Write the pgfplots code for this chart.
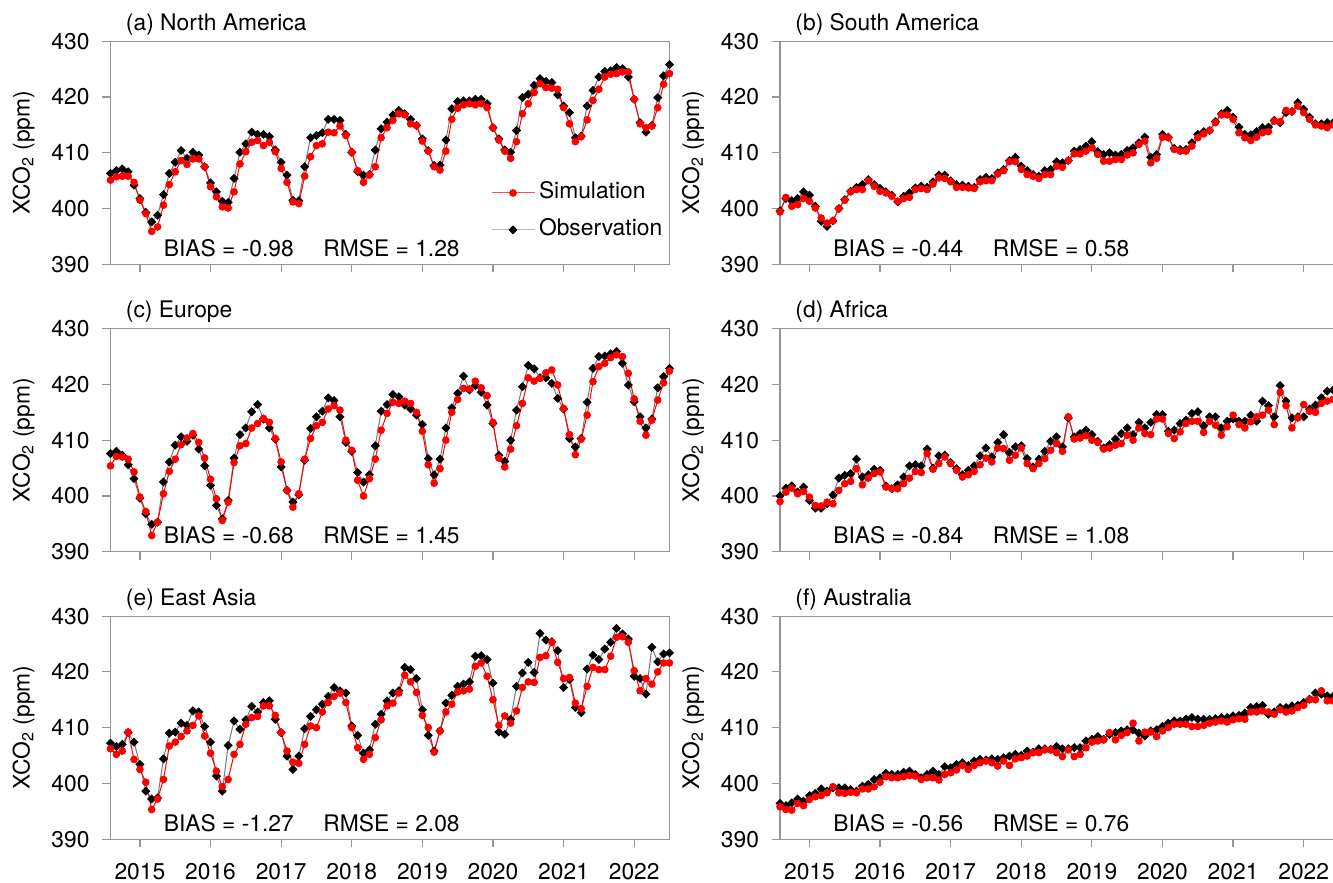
\documentclass[border=0pt]{standalone}
\usepackage{fontspec}
\setmainfont{TeX Gyre Heros}
\usepackage{pgfplots}
\usepackage{pgfplotstable}
\pgfplotsset{compat=1.18}

\definecolor{axgray}{RGB}{150,150,150}
\definecolor{obsline}{RGB}{120,120,120}
\definecolor{simred}{RGB}{255,0,0}

\newcommand{\ff}{\fontsize{11.4}{13.5}\selectfont}

\pgfplotstableread{
i sim obs
0 405.1 406.3
1 405.7 406.8
2 405.8 407.1
3 405.8 406.6
4 404.7 404.2
5 401.5 401.8
6 399.1 399.3
7 395.9 397.6
8 396.7 398.8
9 400.6 402.5
10 404.3 406.3
11 406.6 408.3
12 408.6 410.4
13 407.9 409.0
14 408.9 410.1
15 408.9 409.6
16 407.5 407.5
17 403.9 404.6
18 402.1 403.0
19 400.3 401.3
20 400.1 401.1
21 403.0 405.4
22 408.0 410.1
23 410.2 411.6
24 411.9 413.7
25 412.2 413.3
26 411.3 413.3
27 411.9 412.9
28 410.2 410.5
29 407.2 408.3
30 404.7 406.0
31 401.2 401.5
32 400.9 401.4
33 405.8 407.5
34 409.3 412.7
35 411.3 413.1
36 411.6 413.6
37 413.7 416.0
38 413.6 416.0
39 414.8 415.8
40 413.1 413.3
41 410.1 410.1
42 406.8 406.6
43 404.7 406.0
44 406.0 406.1
45 407.5 410.5
46 412.7 414.3
47 414.5 415.5
48 415.8 416.8
49 417.0 417.6
50 416.8 417.0
51 415.2 416.0
52 414.9 414.9
53 412.1 412.5
54 410.3 410.4
55 407.5 407.7
56 406.9 407.8
57 410.3 412.3
58 416.0 417.9
59 418.0 419.2
60 418.6 419.3
61 418.8 419.3
62 418.6 419.6
63 418.8 419.6
64 418.1 418.8
65 414.5 414.5
66 412.3 412.5
67 410.3 410.5
68 409.0 410.1
69 412.0 414.0
70 417.0 419.9
71 418.8 420.5
72 420.8 422.1
73 422.4 423.3
74 421.7 422.8
75 421.6 422.6
76 421.4 420.4
77 418.1 418.4
78 415.2 417.2
79 412.0 412.7
80 412.9 413.0
81 415.9 418.4
82 419.4 421.2
83 421.4 423.6
84 423.6 424.6
85 424.1 424.7
86 424.2 425.3
87 424.5 425.1
88 424.5 423.6
89 419.6 419.6
90 415.2 415.4
91 414.5 413.7
92 414.8 414.9
93 418.1 419.9
94 422.3 423.8
95 424.2 425.8
}\tabA

\pgfplotstableread{
i sim obs
0 399.4 399.6
1 402.0 401.8
2 400.4 401.4
3 400.7 401.8
4 401.8 403.0
5 401.3 402.4
6 400.1 400.4
7 398.3 397.7
8 397.4 396.8
9 397.8 397.8
10 400.0 400.0
11 401.5 401.6
12 403.0 403.1
13 403.4 403.8
14 403.4 404.3
15 405.0 405.2
16 404.0 404.3
17 403.1 403.6
18 402.8 403.0
19 402.2 402.4
20 401.3 401.2
21 401.8 402.2
22 402.0 402.8
23 403.4 403.7
24 403.6 404.0
25 403.4 403.8
26 404.4 404.8
27 405.5 406.0
28 405.4 406.0
29 404.8 405.0
30 403.8 404.3
31 403.8 404.2
32 403.7 404.0
33 403.6 403.8
34 404.8 405.2
35 405.0 405.6
36 405.0 405.4
37 406.2 406.4
38 406.8 407.0
39 408.4 408.6
40 408.4 409.2
41 407.0 407.6
42 406.1 406.8
43 405.8 406.1
44 405.4 405.8
45 406.1 406.8
46 406.1 407.0
47 407.6 408.4
48 407.4 408.2
49 408.6 408.6
50 409.8 410.3
51 409.8 410.6
52 410.3 411.2
53 410.9 412.0
54 409.7 410.2
55 408.5 409.7
56 408.5 410.0
57 408.8 409.6
58 408.8 409.7
59 409.6 410.4
60 410.0 410.9
61 411.5 411.8
62 412.1 412.8
63 408.2 409.2
64 409.0 409.7
65 412.8 413.3
66 412.7 412.8
67 410.6 410.8
68 410.3 410.6
69 410.3 410.6
70 411.2 411.8
71 412.7 413.3
72 413.4 413.8
73 414.0 414.0
74 415.4 415.6
75 416.8 417.0
76 416.8 417.6
77 416.0 416.4
78 413.6 414.6
79 412.7 413.3
80 412.2 413.2
81 412.8 413.8
82 413.6 414.5
83 413.8 414.6
84 415.7 415.8
85 415.6 415.4
86 417.6 417.2
87 417.4 417.4
88 418.4 419.0
89 417.2 417.8
90 416.0 416.4
91 415.0 415.2
92 414.8 415.2
93 414.5 415.4
94 415.0 415.4
95 415.2 415.5
}\tabB

\pgfplotstableread{
i sim obs
0 405.4 407.6
1 407.1 408.0
2 407.0 407.3
3 406.6 405.6
4 404.3 403.1
5 399.8 399.6
6 397.2 396.8
7 392.9 394.9
8 395.3 395.3
9 400.4 402.5
10 404.4 406.1
11 406.6 409.1
12 409.2 410.6
13 410.4 409.8
14 411.2 410.9
15 409.6 408.4
16 406.8 405.4
17 403.0 401.9
18 399.5 398.3
19 395.6 395.9
20 398.9 399.2
21 406.0 406.8
22 409.0 411.0
23 409.4 412.2
24 412.2 415.1
25 413.0 416.4
26 413.9 413.8
27 413.2 412.2
28 410.3 410.2
29 406.1 405.2
30 401.0 401.0
31 398.0 398.9
32 400.4 400.2
33 406.6 406.4
34 410.3 412.1
35 412.6 414.2
36 413.2 415.2
37 415.6 417.6
38 416.2 417.1
39 415.4 414.2
40 410.0 409.6
41 408.2 408.0
42 402.8 404.2
43 400.0 402.5
44 403.1 403.8
45 406.6 409.0
46 411.8 415.2
47 414.8 416.4
48 416.8 418.2
49 416.6 417.8
50 417.0 416.3
51 416.6 415.6
52 415.0 414.5
53 411.6 412.8
54 405.6 406.7
55 402.3 403.8
56 404.9 406.6
57 410.0 412.2
58 415.0 415.8
59 417.3 418.4
60 419.3 421.5
61 419.2 419.0
62 420.6 419.8
63 419.4 418.6
64 418.0 416.3
65 413.2 413.0
66 406.8 407.3
67 405.2 406.2
68 408.4 410.0
69 412.6 415.4
70 416.6 419.6
71 421.2 423.4
72 420.6 422.8
73 421.1 421.2
74 422.1 421.2
75 422.6 420.2
76 419.9 417.5
77 415.7 415.6
78 411.0 410.3
79 407.4 408.8
80 410.2 410.3
81 414.5 416.8
82 420.5 422.9
83 423.2 425.0
84 423.8 425.1
85 424.8 425.5
86 425.3 425.9
87 425.0 423.8
88 422.0 419.9
89 417.4 416.9
90 413.4 414.2
91 410.9 412.2
92 413.6 413.8
93 417.2 419.4
94 420.3 421.4
95 422.4 422.9
}\tabC

\pgfplotstableread{
i sim obs
0 399.0 400.0
1 400.7 401.4
2 401.4 401.8
3 400.4 400.7
4 400.8 401.6
5 399.8 399.2
6 398.3 397.8
7 398.2 397.8
8 398.9 398.6
9 398.6 400.2
10 401.0 403.2
11 402.2 403.7
12 402.6 404.0
13 404.9 406.6
14 402.0 403.4
15 403.2 403.8
16 404.0 404.8
17 404.3 404.6
18 401.6 401.8
19 401.3 401.3
20 401.3 402.0
21 402.2 403.4
22 403.2 405.4
23 404.4 405.6
24 404.2 405.4
25 407.6 408.4
26 404.8 405.0
27 405.8 407.2
28 407.0 407.3
29 405.8 406.0
30 404.6 404.9
31 403.4 403.8
32 403.8 404.6
33 404.4 405.4
34 405.6 407.2
35 406.8 408.6
36 406.1 407.0
37 408.6 409.6
38 408.5 411.0
39 406.4 407.8
40 407.3 408.8
41 408.6 409.0
42 405.8 406.7
43 404.9 405.2
44 405.8 406.6
45 406.7 408.0
46 408.2 409.8
47 409.4 410.6
48 408.0 408.8
49 414.2 414.0
50 410.2 410.6
51 410.4 411.2
52 410.8 411.8
53 410.0 411.0
54 409.6 409.8
55 408.4 408.6
56 408.6 409.2
57 409.1 410.2
58 409.4 411.2
59 410.9 412.2
60 410.0 411.0
61 412.2 413.2
62 411.2 412.2
63 411.0 413.2
64 413.8 414.6
65 413.8 414.6
66 411.2 411.6
67 410.3 411.8
68 411.5 413.0
69 413.0 413.6
70 413.4 414.8
71 413.4 415.1
72 411.4 412.6
73 413.4 414.2
74 412.7 414.2
75 410.9 412.2
76 412.4 413.4
77 414.5 413.8
78 412.8 413.4
79 412.2 413.4
80 413.3 414.5
81 414.2 413.4
82 414.5 417.0
83 415.4 416.2
84 412.8 414.2
85 418.6 419.8
86 416.2 417.0
87 412.2 414.0
88 414.0 414.2
89 416.4 414.2
90 415.2 415.6
91 415.0 416.3
92 416.6 417.6
93 417.0 418.8
94 417.3 419.0
95 417.5 419.2
}\tabD

\pgfplotstableread{
i sim obs
0 406.2 407.2
1 405.2 406.6
2 405.8 407.0
3 409.2 409.1
4 404.3 407.4
5 402.5 403.4
6 400.2 398.6
7 395.3 397.2
8 397.2 397.4
9 400.7 404.4
10 406.7 409.0
11 407.4 409.2
12 408.4 410.8
13 409.4 410.4
14 410.4 413.0
15 412.1 412.8
16 408.5 410.2
17 405.4 407.4
18 402.2 401.3
19 399.4 398.6
20 400.7 406.8
21 405.2 411.2
22 407.0 409.7
23 410.6 411.4
24 411.8 413.8
25 412.0 412.8
26 413.9 414.5
27 413.9 414.8
28 412.2 411.5
29 409.1 409.1
30 405.8 404.9
31 403.8 402.5
32 403.6 404.9
33 407.0 409.8
34 410.3 412.0
35 410.0 413.2
36 412.8 414.2
37 414.5 415.6
38 415.6 417.2
39 416.2 416.6
40 414.5 416.2
41 410.0 410.3
42 406.4 408.6
43 404.3 405.4
44 405.2 406.0
45 408.2 410.6
46 411.4 412.4
47 413.9 414.8
48 414.4 416.2
49 416.2 416.6
50 419.4 420.8
51 418.2 420.4
52 416.3 418.8
53 412.2 413.2
54 410.0 408.6
55 405.6 405.8
56 409.4 409.4
57 412.8 414.4
58 414.2 415.8
59 416.4 417.4
60 416.6 417.8
61 416.9 418.2
62 421.0 422.8
63 421.6 422.9
64 419.2 422.2
65 415.0 418.0
66 410.4 409.2
67 412.1 408.8
68 410.8 411.5
69 413.0 417.4
70 417.2 419.8
71 418.2 421.7
72 418.1 419.9
73 422.6 426.9
74 422.9 425.7
75 425.3 425.4
76 421.7 423.8
77 418.8 417.2
78 419.0 418.6
79 414.4 413.6
80 413.4 412.7
81 417.4 420.5
82 420.8 423.0
83 420.4 422.2
84 420.4 424.1
85 422.8 425.3
86 426.2 427.8
87 426.3 426.8
88 425.3 425.9
89 420.2 419.2
90 416.6 418.8
91 418.8 416.0
92 417.8 424.4
93 420.0 421.8
94 421.6 423.2
95 421.6 423.4
}\tabE

\pgfplotstableread{
i sim obs
0 395.8 396.4
1 395.3 396.0
2 395.2 396.5
3 396.4 397.2
4 396.0 396.8
5 397.1 397.8
6 397.6 398.2
7 397.8 399.0
8 398.3 398.6
9 399.4 399.2
10 398.3 399.2
11 398.2 399.2
12 398.4 398.9
13 398.3 398.6
14 399.0 399.5
15 399.0 399.8
16 399.4 400.7
17 400.2 401.0
18 401.2 401.8
19 401.0 401.6
20 401.0 401.6
21 401.2 402.0
22 401.4 402.2
23 401.3 401.6
24 400.7 401.0
25 401.0 401.6
26 401.0 402.2
27 400.6 401.6
28 401.6 403.0
29 401.9 402.8
30 402.4 403.4
31 403.2 403.7
32 402.5 403.2
33 403.2 404.0
34 403.7 404.3
35 404.0 404.2
36 403.7 404.4
37 403.1 404.3
38 404.0 404.6
39 403.2 404.9
40 404.4 405.2
41 404.6 405.0
42 404.9 405.8
43 405.5 405.6
44 405.5 406.2
45 406.0 406.2
46 406.0 406.1
47 405.5 406.6
48 404.8 406.2
49 406.0 406.2
50 404.8 406.4
51 405.2 406.4
52 406.4 407.6
53 407.4 407.9
54 407.6 408.4
55 407.8 407.9
56 409.1 408.8
57 407.8 409.1
58 408.6 409.4
59 409.1 409.6
60 410.8 409.6
61 407.6 409.0
62 409.2 408.5
63 409.2 409.4
64 408.4 409.6
65 409.4 410.2
66 410.0 410.8
67 410.6 411.2
68 410.6 411.2
69 410.6 411.5
70 410.2 411.8
71 410.2 411.5
72 410.4 411.5
73 410.8 411.5
74 411.0 411.6
75 411.2 411.8
76 411.0 411.8
77 411.4 412.1
78 411.6 412.2
79 411.5 412.6
80 412.8 413.6
81 412.8 413.8
82 413.0 414.0
83 412.8 412.4
84 412.4 412.8
85 413.2 413.6
86 412.8 413.6
87 413.0 413.9
88 413.6 414.0
89 414.0 414.5
90 415.0 415.1
91 415.0 416.2
92 416.6 416.0
93 414.8 415.7
94 414.8 415.6
95 414.9 415.8
}\tabF

\pgfplotsset{
  panel/.style={
    scale only axis, width=279.5pt, height=111.5pt,
    xmin=0, xmax=95, ymin=390, ymax=430,
    ytick={390,400,410,420,430},
    xtick={5,17,29,41,53,65,77,89},
    axis line style={axgray, line width=0.6pt},
    tick style={axgray, line width=0.6pt},
    tick align=outside, major tick length=4pt,
    xtick pos=lower, ytick pos=left,
    clip=false,
    /pgf/number format/assume math mode=true,
    /pgf/number format/1000 sep={},
    tick label style={font=\ff, black},
    yticklabel style={xshift=-3pt},
    ylabel={XCO\textsubscript{2} (ppm)},
    every axis y label/.style={at={(axis description cs:-0.1556,0.5)}, rotate=90, anchor=center, font=\ff},
  },
  upper/.style={xticklabels={}},
  lower/.style={xticklabels={2015,2016,2017,2018,2019,2020,2021,2022},
                xticklabel style={yshift=-4.8pt}},
  obsplot/.style={obsline, line width=0.5pt, mark=square*, mark size=1.35pt,
                  mark options={black, fill=black, rotate=45, solid}},
  simplot/.style={simred, line width=0.5pt, mark=*, mark size=1.65pt,
                  mark options={simred, fill=simred, solid}},
}

\newcommand{\panelplots}[4]{%
  \addplot[obsplot, forget plot] table[x=i,y=obs]{#1};
  \addplot[simplot, forget plot] table[x=i,y=sim]{#1};
  \node[anchor=base west, font=\ff, inner sep=0pt] at (rel axis cs:0.027,1) [yshift=5.5pt] {#2};
  \node[anchor=base west, font=\ff, inner sep=0pt] at (rel axis cs:0.0948,0) [yshift=4pt] {BIAS = #3\hspace{1.3em}RMSE = #4};
}

\begin{document}
\begin{tikzpicture}
\begin{axis}[panel, upper, at={(0pt,0pt)}, anchor=south west,
  legend cell align=left,
  legend image code/.code={\draw[mark repeat=2,mark phase=2] plot coordinates {(0pt,0pt) (10.75pt,0pt) (21.5pt,0pt)};},
  legend style={draw=none, fill=none, at={(0.680,0.237)}, anchor=west, inner sep=0pt,
    row sep=8pt, column sep=2pt, font=\ff,
    nodes={inner sep=0pt, text height=8pt, text depth=2.5pt}}]
\panelplots{\tabA}{(a) North America}{-0.98}{1.28}
\addlegendimage{simred!70, line width=0.5pt, mark=*, mark size=1.65pt, mark options={simred, fill=simred}}
\addlegendentry{Simulation}
\addlegendimage{obsline!50, line width=0.5pt, mark=square*, mark size=1.35pt, mark options={black, fill=black, rotate=45}}
\addlegendentry{Observation}
\end{axis}
\begin{axis}[panel, upper, at={(334.75pt,0pt)}, anchor=south west]
\panelplots{\tabB}{(b) South America}{-0.44}{0.58}
\end{axis}
\begin{axis}[panel, upper, at={(0pt,-143.7pt)}, anchor=south west]
\panelplots{\tabC}{(c) Europe}{-0.68}{1.45}
\end{axis}
\begin{axis}[panel, upper, at={(334.75pt,-143.7pt)}, anchor=south west]
\panelplots{\tabD}{(d) Africa}{-0.84}{1.08}
\end{axis}
\begin{axis}[panel, lower, at={(0pt,-287.4pt)}, anchor=south west]
\panelplots{\tabE}{(e) East Asia}{-1.27}{2.08}
\end{axis}
\begin{axis}[panel, lower, at={(334.75pt,-287.4pt)}, anchor=south west]
\panelplots{\tabF}{(f) Australia}{-0.56}{0.76}
\end{axis}
\pgfresetboundingbox
\useasboundingbox (-55.25pt,-309.35pt) rectangle (611.25pt,132.15pt);
\end{tikzpicture}
\end{document}
